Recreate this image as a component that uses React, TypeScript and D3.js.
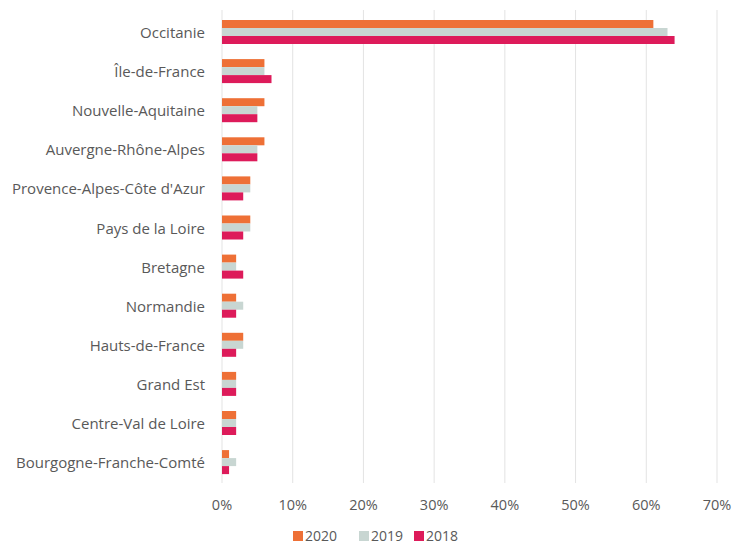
import React from "react";
import * as d3 from "d3";

const categories = [
  "Occitanie",
  "Île-de-France",
  "Nouvelle-Aquitaine",
  "Auvergne-Rhône-Alpes",
  "Provence-Alpes-Côte d'Azur",
  "Pays de la Loire",
  "Bretagne",
  "Normandie",
  "Hauts-de-France",
  "Grand Est",
  "Centre-Val de Loire",
  "Bourgogne-Franche-Comté",
];
const seriesNames = ["2020", "2019", "2018"];
const values2020 = [61, 6, 6, 6, 4, 4, 2, 2, 3, 2, 2, 1];
const values2019 = [63, 6, 5, 5, 4, 4, 2, 3, 3, 2, 2, 2];
const values2018 = [64, 7, 5, 5, 3, 3, 3, 2, 2, 2, 2, 1];
const xTicks = [0, 10, 20, 30, 40, 50, 60, 70];
const colors = ["#EE7036", "#C8D6D2", "#DD1B5A"];

const W = 734;
const H = 545;

export default function App() {
  const seriesValues = [values2020, values2019, values2018];
  const x = d3.scaleLinear().domain([0, 70]).range([222, 717]);
  const y = d3
    .scaleBand<string>()
    .domain(categories)
    .range([12.45, 481.65])
    .paddingInner(0)
    .paddingOuter(0);
  const sub = d3
    .scaleBand<string>()
    .domain(seriesNames)
    .range([0, 24])
    .padding(0);
  const step = y.step();
  const font = "'Open Sans', 'Liberation Sans', sans-serif";
  const textColor = "#595959";

  const legendX = [293, 359, 414];

  return (
    <svg
      width={W}
      height={H}
      style={{ position: "absolute", left: 0, top: 0, background: "#fff" }}
      fontFamily={font}
    >
      <rect x={0} y={0} width={W} height={H} fill="#fff" />
      {xTicks.map((t) => (
        <line
          key={"g" + t}
          x1={x(t)}
          x2={x(t)}
          y1={10}
          y2={483}
          stroke="#e3e3e3"
          strokeWidth={1}
        />
      ))}
      {xTicks.map((t) => (
        <text
          key={"t" + t}
          x={x(t)}
          y={504}
          textAnchor="middle"
          dominantBaseline="central"
          fontSize={14.5}
          fill={textColor}
        >
          {t + "%"}
        </text>
      ))}
      {categories.map((c, i) => {
        const cy = (y(c) as number) + step / 2;
        return (
          <g key={c}>
            <text
              x={205}
              y={cy}
              textAnchor="end"
              dominantBaseline="central"
              fontSize={15}
              fill={textColor}
            >
              {c}
            </text>
            {seriesNames.map((s, j) => (
              <rect
                key={s}
                x={x(0)}
                y={cy - 12 + (sub(s) as number)}
                width={x(seriesValues[j][i]) - x(0)}
                height={sub.bandwidth()}
                fill={colors[j]}
              />
            ))}
          </g>
        );
      })}
      {seriesNames.map((s, j) => (
        <g key={"l" + s}>
          <rect x={legendX[j]} y={531} width={10} height={10} fill={colors[j]} />
          <text x={legendX[j] + 12} y={540.5} fontSize={14} fill={textColor}>
            {s}
          </text>
        </g>
      ))}
    </svg>
  );
}
